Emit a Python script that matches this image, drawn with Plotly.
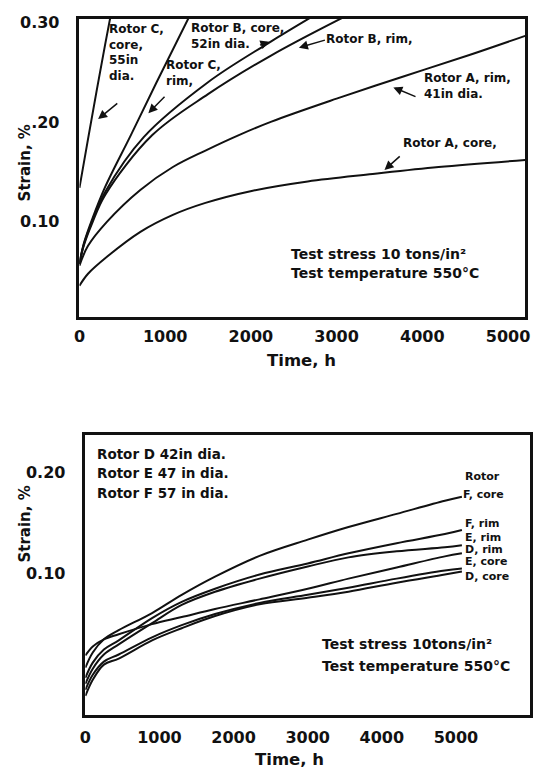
import plotly.graph_objects as go

# ---------------- Top chart data (Rotors A, B, C) ----------------
t_c_core = [0, 100, 200, 300, 380]
s_c_core = [0.134, 0.183, 0.231, 0.278, 0.314]

t_c_rim = [0, 50, 150, 300, 600, 900, 1300]
s_c_rim = [0.058, 0.078, 0.103, 0.135, 0.187, 0.240, 0.309]

t_b_core = [0, 50, 150, 300, 750, 1500, 2200, 2700]
s_b_core = [0.058, 0.077, 0.101, 0.130, 0.185, 0.240, 0.279, 0.305]

t_b_rim = [0, 50, 150, 300, 850, 1500, 2240, 3100]
s_b_rim = [0.058, 0.076, 0.099, 0.127, 0.187, 0.228, 0.267, 0.306]

t_a_rim = [0, 100, 320, 710, 1090, 1470, 1860, 2240, 3000, 3770, 4540, 5200]
s_a_rim = [0.056, 0.076, 0.100, 0.132, 0.155, 0.1715, 0.187, 0.2005, 0.2235, 0.2455, 0.267, 0.2865]

t_a_core = [0, 100, 321, 711, 1090, 1470, 2009, 2663, 3421, 4190, 5200]
s_a_core = [0.036, 0.048, 0.065, 0.090, 0.107, 0.119, 0.131, 0.1405, 0.148, 0.155, 0.162]

top_xticks = [0, 1000, 2000, 3000, 4000, 5000]
top_yticks = [0.10, 0.20, 0.30]
top_ytext = ["0.10", ".20", "0.30"]

# ---------------- Bottom chart data (Rotors D, E, F) ----------------
t_low = [0, 100, 250, 450, 900, 1300, 1750, 2350, 3000, 3550, 4200, 4850, 5080]
s_f_core = [0.007, 0.022, 0.035, 0.044, 0.061, 0.079, 0.097, 0.1175, 0.1335, 0.146, 0.159, 0.172, 0.176]
s_f_rim = [-0.003, 0.012, 0.025, 0.034, 0.056, 0.072, 0.085, 0.099, 0.110, 0.120, 0.130, 0.139, 0.143]
s_e_rim = [-0.009, 0.006, 0.020, 0.030, 0.051, 0.069, 0.082, 0.095, 0.107, 0.116, 0.122, 0.126, 0.128]
s_d_rim = [0.019, 0.028, 0.035, 0.040, 0.050, 0.057, 0.065, 0.0745, 0.085, 0.095, 0.106, 0.117, 0.120]
s_e_core = [-0.015, 0.000, 0.013, 0.020, 0.037, 0.049, 0.060, 0.071, 0.079, 0.086, 0.095, 0.103, 0.105]
s_d_core = [-0.021, -0.005, 0.010, 0.016, 0.034, 0.046, 0.058, 0.0696, 0.076, 0.082, 0.091, 0.099, 0.102]

low_xticks = [0, 1000, 2000, 3000, 4000, 5000]
low_yticks = [0.10, 0.20]
low_ytext = ["0.10", "0.20"]

FONT = "DejaVu Sans"
BLACK = "#111111"

fig = go.Figure()

def curve(x, y, xa, ya):
    fig.add_trace(go.Scatter(
        x=x, y=y, mode="lines", xaxis=xa, yaxis=ya,
        line=dict(color=BLACK, width=2, shape="spline", smoothing=1.0),
        showlegend=False, hoverinfo="skip"))

for tx, sy in [(t_c_core, s_c_core), (t_c_rim, s_c_rim), (t_b_core, s_b_core),
               (t_b_rim, s_b_rim), (t_a_rim, s_a_rim), (t_a_core, s_a_core)]:
    curve(tx, sy, "x", "y")

for sy in [s_f_core, s_f_rim, s_e_rim, s_d_rim, s_e_core, s_d_core]:
    curve(t_low, sy, "x2", "y2")

axis_common = dict(showline=True, linewidth=2.5, linecolor=BLACK, mirror=True,
                   showgrid=False, zeroline=False, ticks="", fixedrange=True,
                   tickfont=dict(family=FONT, size=16, color=BLACK, weight="bold"))

fig.update_layout(
    width=539, height=768,
    margin=dict(l=0, r=0, t=0, b=0),
    paper_bgcolor="white", plot_bgcolor="white",
    xaxis=dict(domain=[0.1391, 0.9833], range=[0, 5200], anchor="y",
               tickvals=top_xticks, ticklabelstandoff=3, **axis_common),
    yaxis=dict(domain=[0.5924, 0.9831], range=[0.005, 0.3035], anchor="x",
               tickvals=top_yticks, ticktext=top_ytext, ticklabelstandoff=14,
               **axis_common),
    xaxis2=dict(domain=[0.1503, 0.9926], range=[0, 6000], anchor="y2",
                tickvals=low_xticks, ticklabelstandoff=6, **axis_common),
    yaxis2=dict(domain=[0.0690, 0.4375], range=[-0.0402, 0.2373], anchor="x2",
                tickvals=low_yticks, ticktext=low_ytext, ticklabelstandoff=14,
                **axis_common),
)

def label(text, x, y, xr="x", yr="y", size=12, yanchor="middle"):
    fig.add_annotation(text=text, x=x, y=y, xref=xr, yref=yr, showarrow=False,
                       xanchor="left", yanchor=yanchor, align="left",
                       font=dict(family=FONT, size=size, color=BLACK, weight="bold"))

def arrow(x0, y0, x1, y1, xr="x", yr="y"):
    fig.add_annotation(text="", x=x1, y=y1, ax=x0, ay=y0, xref=xr, yref=yr,
                       axref=xr, ayref=yr, showarrow=True, arrowhead=2,
                       arrowsize=1.2, arrowwidth=1.5, arrowcolor=BLACK)

# Top chart labels
label("Rotor C,<br>core,<br>55in<br>dia.", 320, 0.3020, yanchor="top")
arrow(459, 0.220, 218, 0.203)
label("Rotor C,<br>rim,", 990, 0.266, yanchor="top")
arrow(1010, 0.227, 804, 0.209)
label("Rotor B, core,<br>52in dia.", 1280, 0.3030, yanchor="top")
arrow(2089, 0.2766, 2216, 0.2806)
label("Rotor B, rim,", 2850, 0.2836)
arrow(2881, 0.2826, 2560, 0.2746)
label("Rotor A, rim,<br>41in dia.", 4000, 0.2537, yanchor="top")
arrow(3938, 0.2249, 3662, 0.2348)
label("Rotor A, core,", 3750, 0.179)
arrow(3754, 0.167, 3559, 0.152)
label("Test stress 10 tons/in²", 2440, 0.0677, size=14)
label("Test temperature 550°C", 2440, 0.0488, size=14)

# Bottom chart labels
label("Rotor D 42in dia.", 130, 0.2186, "x2", "y2", size=13.5)
label("Rotor E 47 in dia.", 130, 0.199, "x2", "y2", size=13.5)
label("Rotor F 57 in dia.", 130, 0.180, "x2", "y2", size=13.5)
label("Rotor", 5090, 0.196, "x2", "y2", size=11)
label("F, core", 5070, 0.178, "x2", "y2", size=11)
label("F, rim", 5090, 0.149, "x2", "y2", size=11)
label("E, rim", 5090, 0.1355, "x2", "y2", size=11)
label("D, rim", 5090, 0.1235, "x2", "y2", size=11)
label("E, core", 5090, 0.1115, "x2", "y2", size=11)
label("D, core", 5090, 0.0975, "x2", "y2", size=11)
label("Test stress 10tons/in²", 3160, 0.0304, "x2", "y2", size=14)
label("Test temperature 550°C", 3160, 0.0088, "x2", "y2", size=14)

# Axis titles
def title(text, x, y, angle=0, size=17):
    fig.add_annotation(text=text, x=x, y=y, xref="paper", yref="paper",
                       showarrow=False, textangle=angle,
                       xanchor="center", yanchor="middle",
                       font=dict(family=FONT, size=size, color=BLACK, weight="bold"))

title("Strain, %", 0.0353, 0.7943, angle=-90, size=15)
title("Strain, %", 0.0353, 0.3203, angle=-90, size=15)
title("Time, h", 0.5603, 0.5352, size=16.5)
title("Time, h", 0.5362, 0.0110, size=16.5)

fig.write_html("out.html")
